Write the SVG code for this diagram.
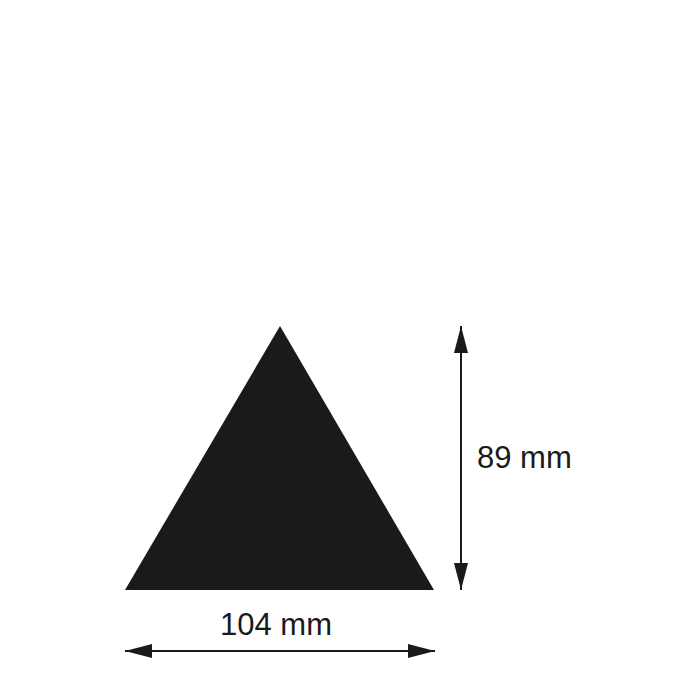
<svg xmlns="http://www.w3.org/2000/svg" width="700" height="700" viewBox="0 0 700 700">
<defs>
<style>
.dim{stroke:#1a1a1a;stroke-width:2;fill:none}
.lbl{font-family:"Liberation Sans",Arial,sans-serif;font-size:31px;fill:#1a1a1a}
</style>
<marker id="ah" viewBox="0 0 27 14" refX="27" refY="7" markerWidth="27" markerHeight="14" markerUnits="userSpaceOnUse" orient="auto-start-reverse">
<path d="M0,0 L27,7 L0,14 Z" fill="#1a1a1a"/>
</marker>
</defs>
<rect width="700" height="700" fill="#ffffff"/>
<g id="triangle">
<polygon points="280,326 434,590 125,590" fill="#1a1a1a"/>
</g>
<g id="connectors">
<line class="dim" x1="461" y1="326" x2="461" y2="590" marker-start="url(#ah)" marker-end="url(#ah)"/>
<line class="dim" x1="125" y1="651" x2="435" y2="651" marker-start="url(#ah)" marker-end="url(#ah)"/>
</g>
<g id="height-label">
<text class="lbl" x="477" y="468">89 mm</text>
</g>
<g id="width-label">
<text class="lbl" x="220" y="635">104 mm</text>
</g>
</svg>
